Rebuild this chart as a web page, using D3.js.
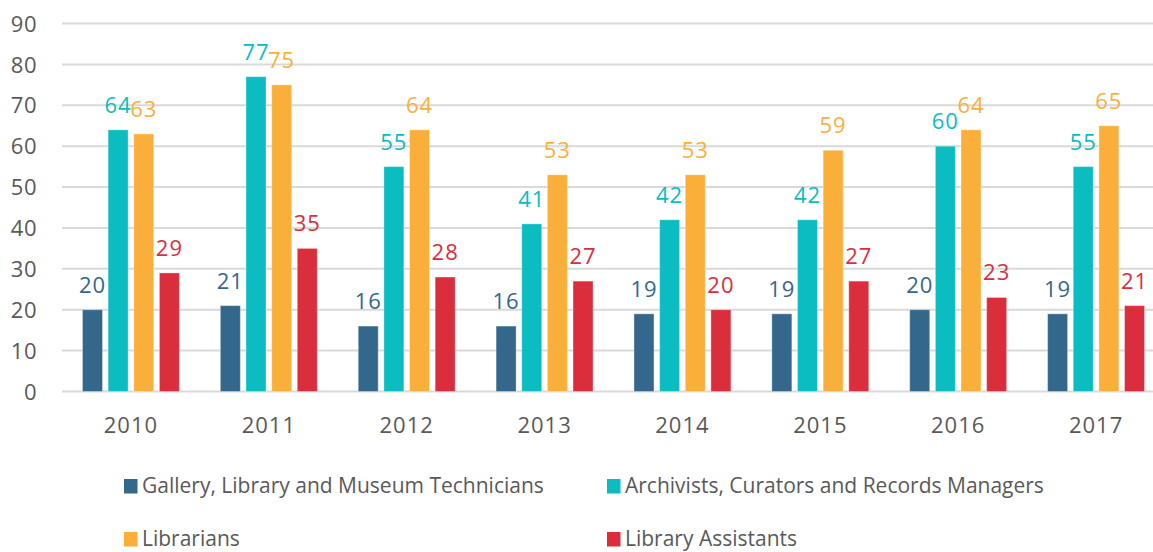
<!DOCTYPE html>
<html>
<head>
<meta charset="utf-8">
<script src="https://cdn.jsdelivr.net/npm/d3@7"></script>
<style>
  body { margin: 0; background: #fff; }
  text { font-family: "Open Sans", sans-serif; }
</style>
</head>
<body>
<div id="chart"></div>
<script>
// data
var years = ["2010", "2011", "2012", "2013", "2014", "2015", "2016", "2017"];
var seriesNames = [
  "Gallery, Library and Museum Technicians",
  "Archivists, Curators and Records Managers",
  "Librarians",
  "Library Assistants"
];
var technicians = [20, 21, 16, 16, 19, 19, 20, 19];
var archivists  = [64, 77, 55, 41, 42, 42, 60, 55];
var librarians  = [63, 75, 64, 53, 53, 59, 64, 65];
var assistants  = [29, 35, 28, 27, 20, 27, 23, 21];
var yTicks = [0, 10, 20, 30, 40, 50, 60, 70, 80, 90];

var seriesValues = [technicians, archivists, librarians, assistants];
var colors = ["#33678b", "#0bbcc1", "#fbaf3b", "#da2e3c"];

var width = 1153, height = 552;
var svg = d3.select("#chart").append("svg").attr("width", width).attr("height", height);

var x0 = d3.scaleBand().domain(years).range([62, 1165]).paddingInner(0.297).paddingOuter(0.1485);
var x1 = d3.scaleBand().domain(d3.range(seriesNames.length)).range([0, x0.bandwidth()]).paddingInner(0.22);
var y = d3.scaleLinear().domain([0, 90]).range([391.5, 23.5]);

// gridlines
svg.append("g").selectAll("line").data(yTicks).enter().append("line")
  .attr("x1", 62).attr("x2", width)
  .attr("y1", function(d) { return y(d); })
  .attr("y2", function(d) { return y(d); })
  .attr("stroke", "#d9d9d9").attr("stroke-width", 2);

// y axis labels
var yAxis = d3.axisLeft(y).tickValues(yTicks).tickSize(0).tickPadding(0);
svg.append("g").attr("transform", "translate(37,0)").call(yAxis)
  .call(function(g) { g.select(".domain").remove(); })
  .selectAll("text")
  .attr("font-family", "Open Sans").attr("font-size", 22).attr("fill", "#595959")
  .attr("dy", "0.35em").attr("letter-spacing", 0.5);

// x axis labels
var xAxis = d3.axisBottom(x0).tickSize(0).tickPadding(0);
svg.append("g").attr("transform", "translate(0,425)").call(xAxis)
  .call(function(g) { g.select(".domain").remove(); })
  .selectAll("text")
  .attr("font-family", "Open Sans").attr("font-size", 22).attr("fill", "#595959")
  .attr("dy", "0.35em").attr("letter-spacing", 1);

// bars
var groups = svg.append("g").selectAll("g").data(years).enter().append("g")
  .attr("transform", function(d) { return "translate(" + x0(d) + ",0)"; });

groups.each(function(year, yi) {
  var g = d3.select(this);
  var cells = seriesValues.map(function(vals, si) { return { s: si, v: vals[yi] }; });

  g.selectAll("rect").data(cells).enter().append("rect")
    .attr("x", function(d) { return x1(d.s); })
    .attr("y", function(d) { return y(d.v); })
    .attr("width", x1.bandwidth())
    .attr("height", function(d) { return y(0) - y(d.v); })
    .attr("fill", function(d) { return colors[d.s]; })
    .attr("stroke", "#ffffff").attr("stroke-opacity", 0.35).attr("stroke-width", 1);

  g.selectAll("text").data(cells).enter().append("text")
    .attr("x", function(d) { return x1(d.s) + x1.bandwidth() / 2; })
    .attr("y", function(d) { return y(d.v) - 17; })
    .attr("text-anchor", "middle")
    .attr("font-size", 22)
    .attr("letter-spacing", 1)
    .attr("fill", function(d) { return colors[d.s]; })
    .text(function(d) { return d.v; });
});

// legend
var legendCols = [124, 607];
var legendRows = [486, 539];
var legend = svg.append("g").selectAll("g").data(seriesNames).enter().append("g")
  .attr("transform", function(d, i) {
    return "translate(" + legendCols[i % 2] + "," + legendRows[Math.floor(i / 2)] + ")";
  });
legend.append("rect").attr("x", 0).attr("y", -7).attr("width", 13.5).attr("height", 14.5)
  .attr("fill", function(d, i) { return colors[i]; });
legend.append("text").attr("x", 18).attr("y", 0).attr("dy", "0.35em")
  .attr("font-size", 21).attr("fill", "#595959")
  .text(function(d) { return d; });
</script>
</body>
</html>
